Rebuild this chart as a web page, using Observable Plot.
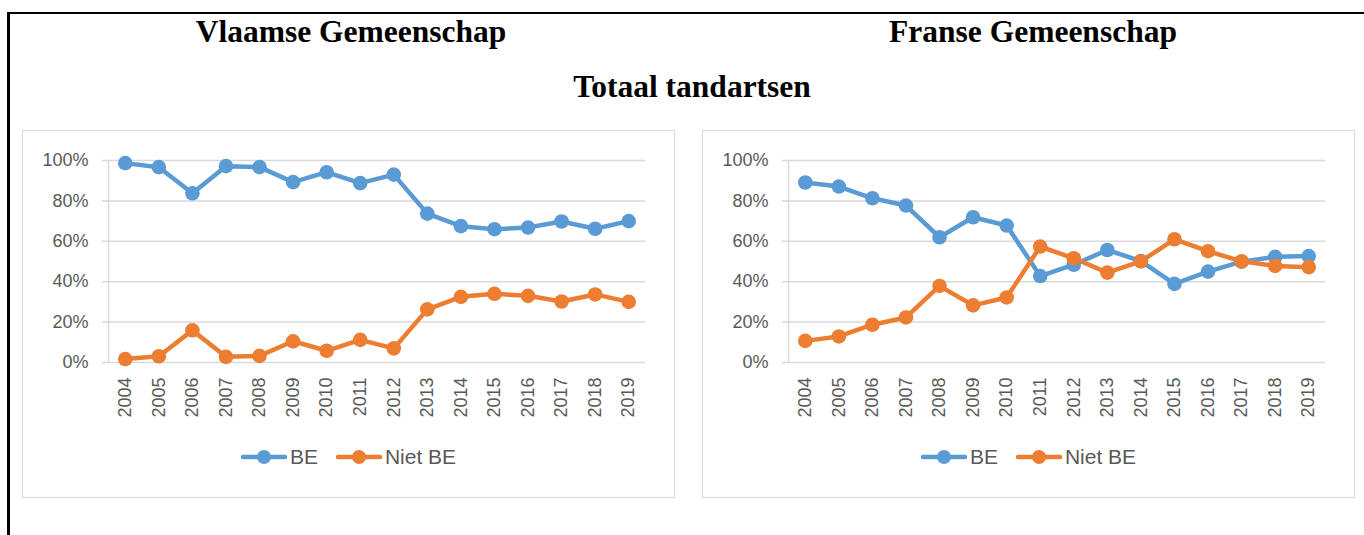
<!DOCTYPE html>
<html>
<head>
<meta charset="utf-8">
<script src="https://cdn.jsdelivr.net/npm/d3@7"></script>
<script src="https://cdn.jsdelivr.net/npm/@observablehq/plot@0.6"></script>
<style>
  html, body { margin: 0; padding: 0; background: #fff; }
  #page { position: relative; width: 1364px; height: 535px; overflow: hidden; background: #fff; }
  .frameTop { position: absolute; left: 7px; top: 12px; width: 1357px; height: 2px; background: #000; }
  .frameLeft { position: absolute; left: 7px; top: 12px; width: 3px; height: 523px; background: #000; }
  .title { position: absolute; font-family: "Liberation Serif", serif; font-weight: bold; font-size: 31.5px; line-height: 32px; color: #000; white-space: nowrap; transform: translateX(-50%); }
  .box { position: absolute; top: 130px; width: 653px; height: 368px; border: 1.5px solid #d9d9d9; box-sizing: border-box; }
  .box svg { position: absolute; left: 0; top: 0; }
  .legend { position: absolute; left: 0; right: 0; top: 314px; display: flex; justify-content: center; align-items: center; gap: 18px; font-family: "Liberation Sans", sans-serif; font-size: 21px; color: #595959; }
  .legend .item { display: flex; align-items: center; gap: 3px; }
</style>
</head>
<body>
<div id="page">
  <div class="frameTop"></div>
  <div class="frameLeft"></div>
  <div class="title" style="left:351px; top:16px;">Vlaamse Gemeenschap</div>
  <div class="title" style="left:1033px; top:16px;">Franse Gemeenschap</div>
  <div class="title" style="left:692px; top:71px;">Totaal tandartsen</div>
  <div class="box" id="boxL" style="left:22px;"></div>
  <div class="box" id="boxR" style="left:702px;"></div>
</div>
<script>
const years = ["2004","2005","2006","2007","2008","2009","2010","2011","2012","2013","2014","2015","2016","2017","2018","2019"];
const seriesNames = ["BE", "Niet BE"];
const seriesColors = ["#5b9bd5", "#ed7d31"];
const yTicks = [0, 0.2, 0.4, 0.6, 0.8, 1];

// Vlaamse Gemeenschap
const vlaamsBE   = [0.987, 0.967, 0.838, 0.972, 0.967, 0.893, 0.942, 0.888, 0.930, 0.737, 0.675, 0.660, 0.668, 0.698, 0.662, 0.700];
const vlaamsNiet = [0.017, 0.031, 0.159, 0.028, 0.033, 0.105, 0.058, 0.112, 0.070, 0.263, 0.325, 0.340, 0.330, 0.302, 0.337, 0.300];
// Franse Gemeenschap
const fransBE    = [0.891, 0.871, 0.813, 0.777, 0.620, 0.719, 0.678, 0.428, 0.484, 0.557, 0.502, 0.389, 0.450, 0.499, 0.523, 0.527];
const fransNiet  = [0.107, 0.129, 0.187, 0.223, 0.379, 0.283, 0.322, 0.574, 0.516, 0.445, 0.501, 0.610, 0.551, 0.501, 0.478, 0.472];

function chart(be, niet) {
  const rows = [];
  years.forEach((y, i) => {
    rows.push({year: y, series: seriesNames[0], value: be[i]});
  });
  years.forEach((y, i) => {
    rows.push({year: y, series: seriesNames[1], value: niet[i]});
  });
  const color = {domain: seriesNames, range: seriesColors};
  return Plot.plot({
    width: 650,
    height: 300,
    marginTop: 29,
    marginBottom: 69,
    marginLeft: 85,
    marginRight: 28,
    style: {fontFamily: "Liberation Sans, sans-serif", fontSize: "18px", color: "#595959", background: "transparent", overflow: "visible"},
    x: {type: "point", domain: years, padding: 0.5, round: false, label: null},
    y: {domain: [0, 1], label: null},
    color: color,
    marks: [
      Plot.gridY(yTicks, {stroke: "#d9d9d9", strokeOpacity: 1, strokeWidth: 1.5}),
      Plot.axisY(yTicks, {tickSize: 6, tickPadding: 14, stroke: "#d9d9d9", strokeWidth: 1.5, tickFormat: d3.format(".0%"), label: null}),
      Plot.frame({anchor: "left", stroke: "#d9d9d9", strokeWidth: 1.5}),
      Plot.axisX({tickRotate: -90, tickSize: 0, tickPadding: 15, label: null}),
      Plot.lineY(rows, {x: "year", y: "value", z: "series", stroke: "series", strokeWidth: 4.5, strokeLinejoin: "round", strokeLinecap: "round"}),
      Plot.dot(rows, {x: "year", y: "value", fill: "series", r: 7.3})
    ]
  });
}

function legend() {
  const div = document.createElement("div");
  div.className = "legend";
  seriesNames.forEach((name, i) => {
    const item = document.createElement("div");
    item.className = "item";
    const sw = d3.create("svg").attr("width", 46).attr("height", 16);
    sw.append("line").attr("x1", 2).attr("x2", 44).attr("y1", 8).attr("y2", 8)
      .attr("stroke", seriesColors[i]).attr("stroke-width", 4.5).attr("stroke-linecap", "round");
    sw.append("circle").attr("cx", 23).attr("cy", 8).attr("r", 7).attr("fill", seriesColors[i]);
    const svgNode = sw.node();
    svgNode.style.position = "static";
    item.appendChild(svgNode);
    const t = document.createElement("span");
    t.textContent = name;
    item.appendChild(t);
    div.appendChild(item);
  });
  return div;
}

document.getElementById("boxL").appendChild(chart(vlaamsBE, vlaamsNiet));
document.getElementById("boxL").appendChild(legend());
document.getElementById("boxR").appendChild(chart(fransBE, fransNiet));
document.getElementById("boxR").appendChild(legend());
</script>
</body>
</html>
